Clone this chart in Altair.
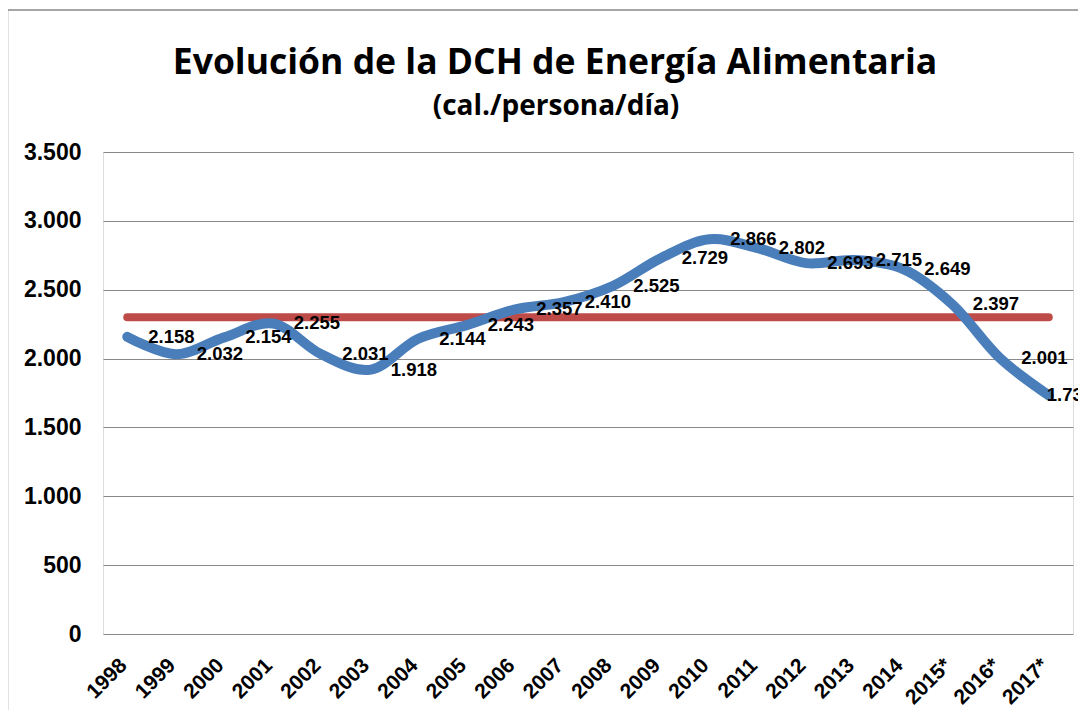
import altair as alt
import pandas as pd

years = ["1998", "1999", "2000", "2001", "2002", "2003", "2004", "2005", "2006", "2007",
         "2008", "2009", "2010", "2011", "2012", "2013", "2014", "2015*", "2016*", "2017*"]
dch_values = [2158, 2032, 2154, 2255, 2031, 1918, 2144, 2243, 2357, 2410,
              2525, 2729, 2866, 2802, 2693, 2715, 2649, 2397, 2001, 1733]
reference_value = 2300
y_ticks = [0, 500, 1000, 1500, 2000, 2500, 3000, 3500]
title_text = "Evolución de la DCH de Energía Alimentaria"
subtitle_text = "(cal./persona/día)"

BLUE = "#4A7EBB"
RED = "#BE4B48"
GRID = "#898989"

df = pd.DataFrame({
    "year": years,
    "value": dch_values,
    "label": [f"{v:,}".replace(",", ".") for v in dch_values],
    "ref": [reference_value] * len(years),
})

x_enc = alt.X("year:O", sort=years,
              scale=alt.Scale(type="point", padding=0.5),
              axis=alt.Axis(title=None, labelAngle=-45, labelAlign="right",
                            labelBaseline="middle", labelPadding=28, labelOffset=-4,
                            labelFont="Liberation Sans", labelFontWeight="bold",
                            labelFontSize=21, labelColor="black",
                            domain=False, ticks=False, grid=False))
y_scale = alt.Scale(domain=[0, 3500], nice=False, zero=True)
y_enc = alt.Y("value:Q", scale=y_scale,
              axis=alt.Axis(title=None, values=y_ticks,
                            labelExpr="replace(format(datum.value, ','), ',', '.')",
                            labelFont="Liberation Sans", labelFontWeight="bold",
                            labelFontSize=23, labelColor="black", labelPadding=22,
                            domain=False, ticks=False, grid=True,
                            gridColor=GRID, gridWidth=1))

base = alt.Chart(df)

one = pd.DataFrame({"title": [title_text], "subtitle": [subtitle_text]})

frame = alt.Chart(one).mark_rect(
    fillOpacity=0, stroke=GRID, strokeWidth=1.5
).encode(x=alt.value(-95.5), x2=alt.value(1200), y=alt.value(-142), y2=alt.value(800))

title_mark = alt.Chart(one).mark_text(
    align="center", baseline="alphabetic", font="Open Sans", fontSize=35.5,
    fontWeight="bold", color="black"
).encode(x=alt.value(452), y=alt.value(-78), text="title:N")

subtitle_mark = alt.Chart(one).mark_text(
    align="center", baseline="alphabetic", font="Open Sans", fontSize=28,
    fontWeight="bold", color="black"
).encode(x=alt.value(453), y=alt.value(-37), text="subtitle:N")

ref_line = base.mark_line(color=RED, strokeWidth=8, strokeCap="round").encode(
    x=x_enc, y=alt.Y("ref:Q", scale=y_scale)
)

main_line = base.mark_line(color=BLUE, strokeWidth=10, strokeCap="round",
                           strokeJoin="round", interpolate="catmull-rom").encode(
    x=x_enc, y=y_enc
)

labels = base.transform_filter(alt.datum.year != years[-1]).mark_text(
    align="left", baseline="middle", dx=21,
    font="Liberation Sans", fontWeight="bold", fontSize=18.5, color="black"
).encode(x=alt.X("year:O", sort=years), y=alt.Y("value:Q", scale=y_scale), text="label:N")

last_label = base.transform_filter(alt.datum.year == years[-1]).mark_text(
    align="left", baseline="middle", dx=-2,
    font="Liberation Sans", fontWeight="bold", fontSize=18.5, color="black"
).encode(x=alt.X("year:O", sort=years), y=alt.Y("value:Q", scale=y_scale), text="label:N")

chart = alt.layer(frame, title_mark, subtitle_mark, ref_line, main_line,
                  labels, last_label).properties(
    width=970, height=482,
    autosize=alt.AutoSizeParams(type="none"),
    padding={"left": 95, "top": 144, "right": 5, "bottom": 76},
).configure_view(stroke=None).configure(background="white")

chart.save("out.html", embed_options={"renderer": "svg", "actions": False})
